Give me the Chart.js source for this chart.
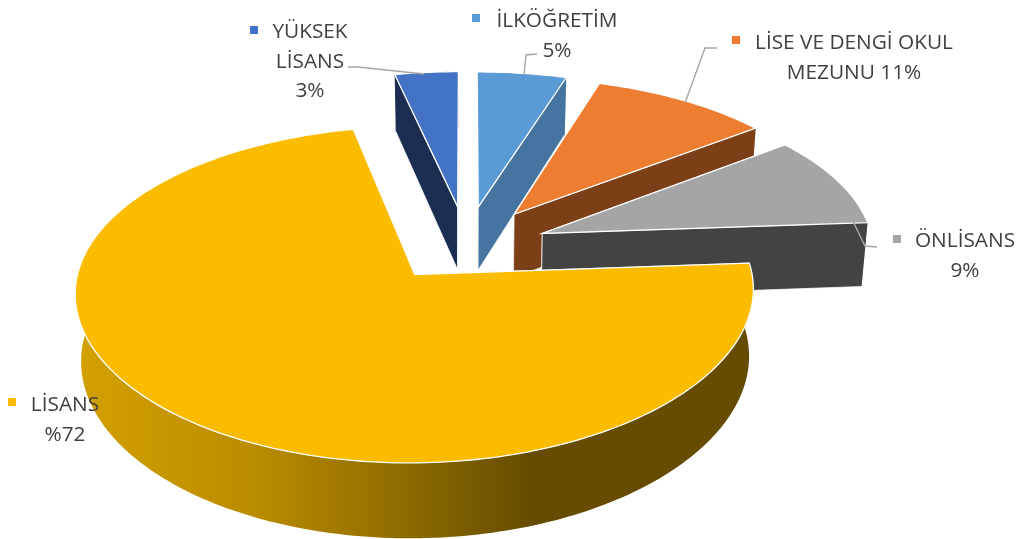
<!DOCTYPE html>
<html>
<head>
<meta charset="utf-8">
<title>Eğitim durumu</title>
<script src="https://cdn.jsdelivr.net/npm/chart.js@4"></script>
<style>
  html, body { margin: 0; padding: 0; background: #fff; }
  canvas { display: block; }
</style>
</head>
<body>
<canvas id="pie" width="1024" height="539"></canvas>
<script>
// data, clockwise from the top of the pie
const categories = ["İLKÖĞRETİM", "LİSE VE DENGİ OKUL MEZUNU", "ÖNLİSANS", "LİSANS", "YÜKSEK LİSANS"];
const percents = [5, 11, 9, 71.6, 3.4];
const topColors = ["#5B9BD5", "#ED7D31", "#A5A5A5", "#FBBC00", "#4472C4"];
const wallColors = ["#44749F", "#7C3F17", "#434343", null, "#1B2E52"];

// labels as they are broken in the picture
const labelLines = [
    ["İLKÖĞRETİM", "5%"],
    ["LİSE VE DENGİ OKUL", "MEZUNU 11%"],
    ["ÖNLİSANS", "9%"],
    ["LİSANS", "%72"],
    ["YÜKSEK", "LİSANS", "3%"]
];
const labelCenters = [[557, 27], [854, 49], [965, 247], [65, 411], [310, 38]];
const keyBoxes = [[472, 14], [732, 36], [893, 235], [8, 398], [250, 26]];
const leaders = [
    [[537, 54], [526, 55], [524, 75]],
    [[717, 48], [705, 48], [685, 103]],
    [[877, 247], [865, 246], [833, 180]],
    [],
    [[348, 67], [358, 67], [424, 74]]
];

// view of the tilted pie
const cx = 466, cy = 244, radius = 331, explode = 80;
const tilt = 0.48, perspX = 0.0003, perspY = 0.00035, depth = 65, taper = 0.015;

function project(px, py, z) {
    const sx = 1 / (1 + perspX * py), sy = 1 / (1 + perspY * py);
    return {
        x: cx + px * sx * (1 - taper * z),
        y: cy - tilt * py * sy + depth * sy * z
    };
}

// the 3D view turns slice edges on the right a little towards the back
function viewAngle(a) {
    const s = Math.sin(a), s2 = Math.sin(2 * a);
    return a - s * s * (4 + 3.4 * s2 * s2) * Math.PI / 180;
}

// corners of a slice, turned from the element's angles
function slicePoints(el, z) {
    const a0 = el.startAngle + Math.PI / 2, a1 = el.endAngle + Math.PI / 2;
    const mid = (a0 + a1) / 2, off = el.options.offset;
    const ox = off * Math.sin(mid), oy = off * Math.cos(mid);
    const v0 = viewAngle(a0), v1 = viewAngle(a1);
    const rim = [];
    const n = Math.ceil((v1 - v0) / 0.02);
    for (let i = 0; i <= n; i++) {
        const a = v0 + (v1 - v0) * i / n;
        rim.push(project(ox + radius * Math.sin(a), oy + radius * Math.cos(a), z));
    }
    return { apex: project(ox, oy, z), rim: rim };
}

function path(ctx, pts) {
    ctx.beginPath();
    pts.forEach((p, i) => i ? ctx.lineTo(p.x, p.y) : ctx.moveTo(p.x, p.y));
    ctx.closePath();
}

function drawSlice(ctx, el, i) {
    const top = slicePoints(el, 0), bottom = slicePoints(el, 1);
    let wall = wallColors[i];
    if (!wall) {
        wall = ctx.createLinearGradient(80, 0, 760, 0);
        wall.addColorStop(0, "#D2A000");
        wall.addColorStop(0.25, "#BB8D00");
        wall.addColorStop(0.47, "#8F6C00");
        wall.addColorStop(0.66, "#664C00");
        wall.addColorStop(1, "#664C00");
    }
    ctx.fillStyle = wall;
    ctx.strokeStyle = "rgba(255,255,255,0.75)";
    ctx.lineWidth = 1;
    const last = top.rim.length - 1;
    // radial faces
    [[top.apex, top.rim[0], bottom.rim[0], bottom.apex],
     [top.apex, top.rim[last], bottom.rim[last], bottom.apex]].forEach(q => {
        path(ctx, q); ctx.fill(); ctx.stroke();
    });
    // outer face
    path(ctx, top.rim.concat(bottom.rim.slice().reverse()));
    ctx.fill();
    // top face
    path(ctx, [top.apex].concat(top.rim));
    ctx.fillStyle = el.options.backgroundColor;
    ctx.fill();
    ctx.strokeStyle = "#fff";
    ctx.lineWidth = 1.3;
    ctx.stroke();
}

const pie3d = {
    id: "pie3d",
    beforeDatasetDraw(chart, args) {
        const ctx = chart.ctx;
        args.meta.data.forEach((el, i) => drawSlice(ctx, el, i));
        return false;
    },
    afterDraw(chart) {
        const ctx = chart.ctx;
        ctx.save();
        // leader lines
        ctx.strokeStyle = "#A6A6A6";
        ctx.lineWidth = 1.4;
        leaders.forEach(l => {
            if (!l.length) return;
            ctx.beginPath();
            l.forEach((p, i) => i ? ctx.lineTo(p[0], p[1]) : ctx.moveTo(p[0], p[1]));
            ctx.stroke();
        });
        // keys and text
        ctx.font = "20.8px 'Open Sans'";
        ctx.textAlign = "center";
        ctx.textBaseline = "alphabetic";
        labelLines.forEach((lines, i) => {
            ctx.fillStyle = topColors[i];
            ctx.fillRect(keyBoxes[i][0], keyBoxes[i][1], 8, 8);
            ctx.fillStyle = "#404040";
            lines.forEach((t, j) => ctx.fillText(t, labelCenters[i][0], labelCenters[i][1] + j * 29.5));
        });
        ctx.restore();
    }
};

new Chart(document.getElementById("pie"), {
    type: "pie",
    data: {
        labels: categories,
        datasets: [{ data: percents, backgroundColor: topColors, offset: explode, borderWidth: 0 }]
    },
    options: {
        responsive: false,
        animation: false,
        plugins: { legend: { display: false }, tooltip: { enabled: false } }
    },
    plugins: [pie3d]
});
</script>
</body>
</html>
